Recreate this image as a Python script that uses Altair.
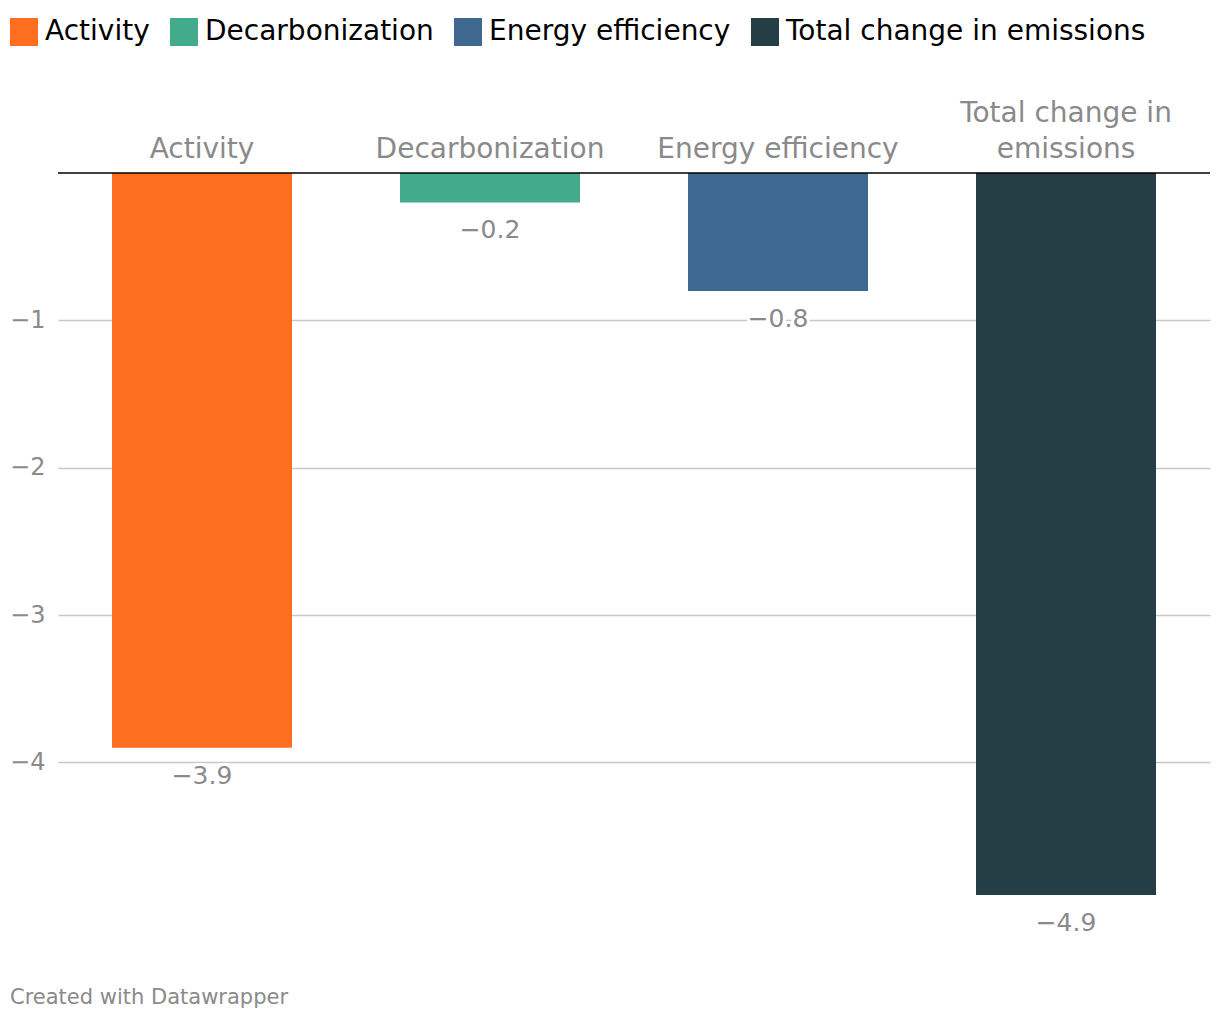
import altair as alt
import pandas as pd

categories = ["Activity", "Decarbonization", "Energy efficiency", "Total change in emissions"]
values = [-3.9, -0.2, -0.8, -4.9]
colors = ["#FF6F1F", "#43AA8B", "#3E6890", "#253D44"]
y_ticks = [-1, -2, -3, -4]
footer = "Created with Datawrapper"

df = pd.DataFrame({"category": categories, "value": values})

FONT = "DejaVu Sans"
GRAY = "#8a8a8a"

x_enc = alt.X(
    "category:N",
    sort=categories,
    scale=alt.Scale(paddingInner=0.375, paddingOuter=0.1875),
    axis=alt.Axis(
        orient="top", title=None, labelAngle=0, domain=False, ticks=False, tickSize=0,
        labelPadding={"condition": {"test": "datum.value == 'Total change in emissions'", "value": 46}, "value": 10},
        labelFontSize=28, labelColor=GRAY, labelLineHeight=36,
        labelLimit=400, labelFont=FONT,
        labelExpr="datum.value == 'Total change in emissions' ? ['Total change in', 'emissions'] : datum.label",
    ),
)
y_enc = alt.Y(
    "value:Q",
    scale=alt.Scale(domain=[-4.9, 0], nice=False, zero=True),
    axis=alt.Axis(
        title=None, values=y_ticks, format="d", domain=False, ticks=False, tickSize=0,
        grid=True, gridColor="#c8c8c8", gridWidth=1.5, labelPadding=13,
        labelFontSize=24, labelColor=GRAY, labelFont=FONT,
    ),
)

base = alt.Chart(df)

bars = base.mark_bar().encode(
    x=x_enc,
    y=y_enc,
    color=alt.Color(
        "category:N",
        sort=categories,
        scale=alt.Scale(domain=categories, range=colors),
        legend=alt.Legend(
            title=None, orient="none", legendX=-48, legendY=-155, direction="horizontal",
            symbolType="square", symbolSize=784, symbolStrokeWidth=0, symbolOpacity=1,
            labelFontSize=28, labelColor="#000000", labelFont=FONT, labelOffset=7,
            columnPadding=20, padding=0, labelLimit=500,
        ),
    ),
)

halo = base.mark_text(
    baseline="middle", align="center", dy=28, fontSize=25, font=FONT,
    color="white", stroke="white", strokeWidth=6, strokeJoin="round",
).encode(x=x_enc, y=y_enc, text=alt.Text("value:Q", format=".1f"))

labels = base.mark_text(
    baseline="middle", align="center", dy=28, fontSize=25, font=FONT, color=GRAY,
).encode(x=x_enc, y=y_enc, text=alt.Text("value:Q", format=".1f"))

zero = alt.Chart(pd.DataFrame({"z": [0]})).mark_rule(color="#000000", strokeWidth=1.5).encode(
    y=alt.Y("z:Q")
)

chart = alt.layer(bars, halo, labels, zero).properties(
    width=1152,
    height=722,
    autosize=alt.AutoSizeParams(type="none"),
    padding={"left": 50, "top": 165, "right": 2, "bottom": 117},
    title=alt.TitleParams(
        footer, orient="bottom", anchor="start", frame="group", dx=-48, offset=68,
        fontSize=21, color=GRAY, fontWeight="normal", font=FONT, baseline="alphabetic",
    ),
).configure(font=FONT).configure_view(stroke=None)

chart.save("out.html", embed_options={"renderer": "svg", "actions": False})
